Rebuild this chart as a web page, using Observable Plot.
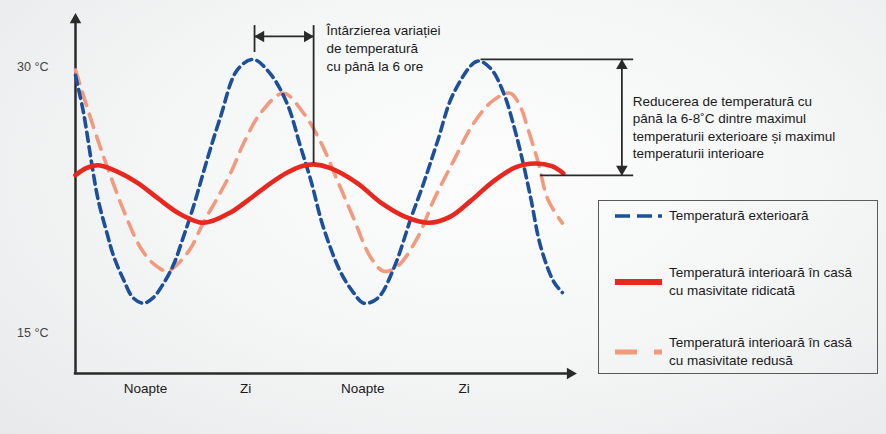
<!DOCTYPE html>
<html>
<head>
<meta charset="utf-8">
<script src="https://cdn.jsdelivr.net/npm/d3@7"></script>
<script src="https://cdn.jsdelivr.net/npm/@observablehq/plot@0.6"></script>
<style>
  html, body { margin: 0; padding: 0; }
  body {
    width: 886px; height: 434px; overflow: hidden;
    background: radial-gradient(ellipse 80% 90% at 55% 40%, #fdfdfd 0%, #f5f6f6 45%, #e7e8e9 100%);
    font-family: "Liberation Sans", Arial, sans-serif;
  }
  #wrap { position: relative; width: 886px; height: 434px; }
  #legend {
    position: absolute; left: 598px; top: 200px; width: 280px; height: 174px;
    box-sizing: border-box; border: 1.5px solid #5a5a5a;
  }
  #legend svg { position: absolute; left: 16px; }
  #legend .lbl { position: absolute; left: 70px; font-size: 13.5px; line-height: 18px; color: #1a1a1a; white-space: nowrap; }
</style>
</head>
<body>
<div id="wrap"></div>
<script>
// ---- data (hours since start, °C) ----
const extHours = [0, 0.85, 1.7, 2.4, 3.4, 4.0, 5.1, 6.1, 7.2, 8.2, 9.3, 10.4, 11.4, 12.4, 14.0, 15.3, 17.1, 18.8, 20.6, 22.4, 23.8, 24.9, 26.2, 28.0, 29.4, 30.5, 32.0, 33.7, 35.5, 36.8, 38.3, 40.0, 42.5, 43.9, 45.3, 46.4, 47.3, 48.2, 49.2, 50.6, 51.5];
const extTemp  = [29.5, 27.4, 24.6, 22.5, 20.5, 19.4, 18.0, 17.0, 16.7, 17.0, 17.8, 18.9, 20.4, 22.0, 24.9, 27.1, 29.8, 30.4, 29.6, 27.9, 25.5, 23.6, 21.0, 18.5, 17.3, 16.7, 17.0, 18.7, 21.5, 23.4, 25.8, 28.5, 30.3, 29.9, 28.5, 26.6, 24.7, 22.5, 19.9, 17.9, 17.3];

const highHours = [0, 1.2, 2.4, 4.4, 6.6, 8.7, 11.1, 13.6, 16.4, 18.2, 20.3, 22.4, 24.1, 25.2, 26.9, 29.8, 32.3, 34.9, 37.4, 39.6, 41.8, 44.2, 46.6, 48.6, 50.4, 51.6];
const highTemp  = [23.9, 24.3, 24.45, 24.1, 23.45, 22.6, 21.7, 21.22, 21.8, 22.47, 23.31, 24.04, 24.42, 24.5, 24.3, 23.45, 22.35, 21.55, 21.22, 21.55, 22.45, 23.55, 24.35, 24.55, 24.4, 24.0];

const lowHours = [0, 1.9, 3.4, 5.1, 6.9, 8.3, 9.7, 10.8, 12.2, 13.5, 15.0, 16.4, 17.8, 19.6, 22.0, 24.1, 25.9, 27.7, 29.4, 31.2, 32.6, 34.1, 36.2, 37.9, 40.0, 42.1, 44.2, 46.0, 47.1, 47.8, 48.9, 50.0, 51.5];
const lowTemp  = [29.8, 26.6, 24.3, 21.9, 19.8, 18.9, 18.5, 18.9, 19.8, 21.2, 22.6, 24.0, 25.7, 27.4, 28.5, 27.4, 25.8, 23.6, 21.5, 19.3, 18.5, 18.8, 20.4, 22.5, 24.7, 26.8, 28.1, 28.5, 27.7, 26.6, 24.7, 22.5, 21.2];

const yTicks = [15, 30];
const yTickLabels = ["15 °C", "30 °C"];
const periodLabels = ["Noapte", "Zi", "Noapte", "Zi"];
const periodHours = [7.4, 18.0, 30.4, 41.1];

const seriesNames = ["Temperatură exterioară", "Temperatură interioară în casă\ncu masivitate ridicată", "Temperatură interioară în casă\ncu masivitate redusă"];

// ---- styles ----
const BLUE = "#1c4f9c", RED = "#e8281f", ORANGE = "#f39a7e", INK = "#2a2a2a", TXT = "#1a1a1a";

const toRows = (h, t) => h.map((x, i) => ({x, y: t[i]}));
const ext = toRows(extHours, extTemp);
const high = toRows(highHours, highTemp);
const low = toRows(lowHours, lowTemp);

const W = 886, H = 434, ML = 75, MR = 310, MT = 13, MB = 61;
const X0 = 0, X1 = 53, Y0 = 12.75, Y1 = 32.98;
const pxX = (W - ML - MR) / (X1 - X0), pxY = (H - MT - MB) / (Y1 - Y0);

// annotation geometry (in chart units)
const lag = {x1: 18.94, x2: 25.19, yArrow: 31.69, yTop: 32.3, yTickBottom: 30.79, yLine: d3.max(highTemp)};
const red = {xStart: 42.9, xStart2: 49.2, xEnd: 59.05, xArrow: 57.8, yTop: d3.max(extTemp), yBottom: 23.88};

function head(x, y, dir) {
  const o = 6.3;
  const cfg = {up: [0, 0, o], down: [180, 0, -o], right: [90, -o, 0], left: [-90, o, 0]}[dir];
  return Plot.dot([{x, y}], {x: "x", y: "y", symbol: "triangle", r: 4.3, fill: INK, stroke: "none", rotate: cfg[0], dx: cfg[1], dy: cfg[2]});
}

const chart = Plot.plot({
  width: W, height: H,
  marginLeft: ML, marginRight: MR, marginTop: MT, marginBottom: MB,
  x: {domain: [X0, X1], axis: null},
  y: {domain: [Y0, Y1], axis: null},
  style: {background: "transparent", fontFamily: "'Liberation Sans', Arial, sans-serif", overflow: "visible"},
  marks: [
    // axes
    Plot.ruleX([X0], {y1: Y0, y2: Y1 - 6 / pxY, stroke: INK, strokeWidth: 2.5}),
    Plot.ruleY([Y0], {x1: X0 - 1.2 / pxX, x2: X1 - 6 / pxX, stroke: INK, strokeWidth: 2.5}),
    head(X0, Y1, "up"),
    head(X1, Y0, "right"),
    Plot.text(yTicks, {y: d => d, text: (d, i) => yTickLabels[i], frameAnchor: "left", dx: -27, textAnchor: "end", fontSize: 12.5, fill: "#444"}),
    Plot.text(periodHours, {x: d => d, text: (d, i) => periodLabels[i], frameAnchor: "bottom", dy: 19, fontSize: 13.5, fill: TXT}),

    // series
    Plot.line(low, {x: "x", y: "y", curve: "catmull-rom", stroke: ORANGE, strokeWidth: 3.6, strokeDasharray: "14,9"}),
    Plot.line(ext, {x: "x", y: "y", curve: "catmull-rom", stroke: BLUE, strokeWidth: 3.6, strokeDasharray: "9,5.5"}),
    Plot.line(high, {x: "x", y: "y", curve: "catmull-rom", stroke: RED, strokeWidth: 4.6}),

    // lag annotation
    Plot.ruleX([lag.x1], {y1: lag.yTickBottom, y2: lag.yTop, stroke: INK, strokeWidth: 1.8}),
    Plot.ruleX([lag.x2], {y1: lag.yLine, y2: lag.yTop, stroke: INK, strokeWidth: 1.8}),
    Plot.ruleY([lag.yArrow], {x1: lag.x1, x2: lag.x2, stroke: INK, strokeWidth: 1.8}),
    head(lag.x1, lag.yArrow, "left"),
    head(lag.x2, lag.yArrow, "right"),
    Plot.text(["Întârzierea variației\nde temperatură\ncu până la 6 ore"], {x: 26.55, y: 31.07, text: d => d, textAnchor: "start", lineHeight: 1.33, fontSize: 13.5, fill: TXT}),

    // reduction annotation
    Plot.ruleY([red.yTop], {x1: red.xStart, x2: red.xEnd, stroke: INK, strokeWidth: 1.8}),
    Plot.ruleY([red.yBottom], {x1: red.xStart2, x2: red.xEnd, stroke: INK, strokeWidth: 1.8}),
    Plot.ruleX([red.xArrow], {y1: red.yBottom, y2: red.yTop, stroke: INK, strokeWidth: 1.8}),
    head(red.xArrow, red.yTop, "up"),
    head(red.xArrow, red.yBottom, "down"),
    Plot.text(["Reducerea de temperatură cu\npână la 6-8˚C dintre maximul\ntemperaturii exterioare și maximul\ntemperaturii interioare"], {x: 58.95, y: 26.63, text: d => d, textAnchor: "start", lineHeight: 1.3, fontSize: 13.5, fill: TXT})
  ]
});

const wrap = document.getElementById("wrap");
wrap.appendChild(chart);

// legend
const legend = document.createElement("div");
legend.id = "legend";
const items = [
  {name: seriesNames[0], color: BLUE, width: 3.6, dash: "15,7,15,6,4,100", cy: 15},
  {name: seriesNames[1], color: RED, width: 6, dash: null, cy: 81},
  {name: seriesNames[2], color: ORANGE, width: 5, dash: "22,17,8,100", cy: 151}
];
for (const it of items) {
  const ns = "http://www.w3.org/2000/svg";
  const svg = document.createElementNS(ns, "svg");
  svg.setAttribute("width", 48); svg.setAttribute("height", 10);
  svg.style.top = (it.cy - 5) + "px";
  const ln = document.createElementNS(ns, "line");
  ln.setAttribute("x1", 0); ln.setAttribute("x2", 47); ln.setAttribute("y1", 5); ln.setAttribute("y2", 5);
  ln.setAttribute("stroke", it.color); ln.setAttribute("stroke-width", it.width);
  if (it.dash) ln.setAttribute("stroke-dasharray", it.dash);
  svg.appendChild(ln);
  legend.appendChild(svg);
  const lines = it.name.split("\n");
  const lbl = document.createElement("div");
  lbl.className = "lbl";
  lbl.style.top = (it.cy - lines.length * 9) + "px";
  lbl.innerHTML = lines.join("<br>");
  legend.appendChild(lbl);
}
wrap.appendChild(legend);
</script>
</body>
</html>
